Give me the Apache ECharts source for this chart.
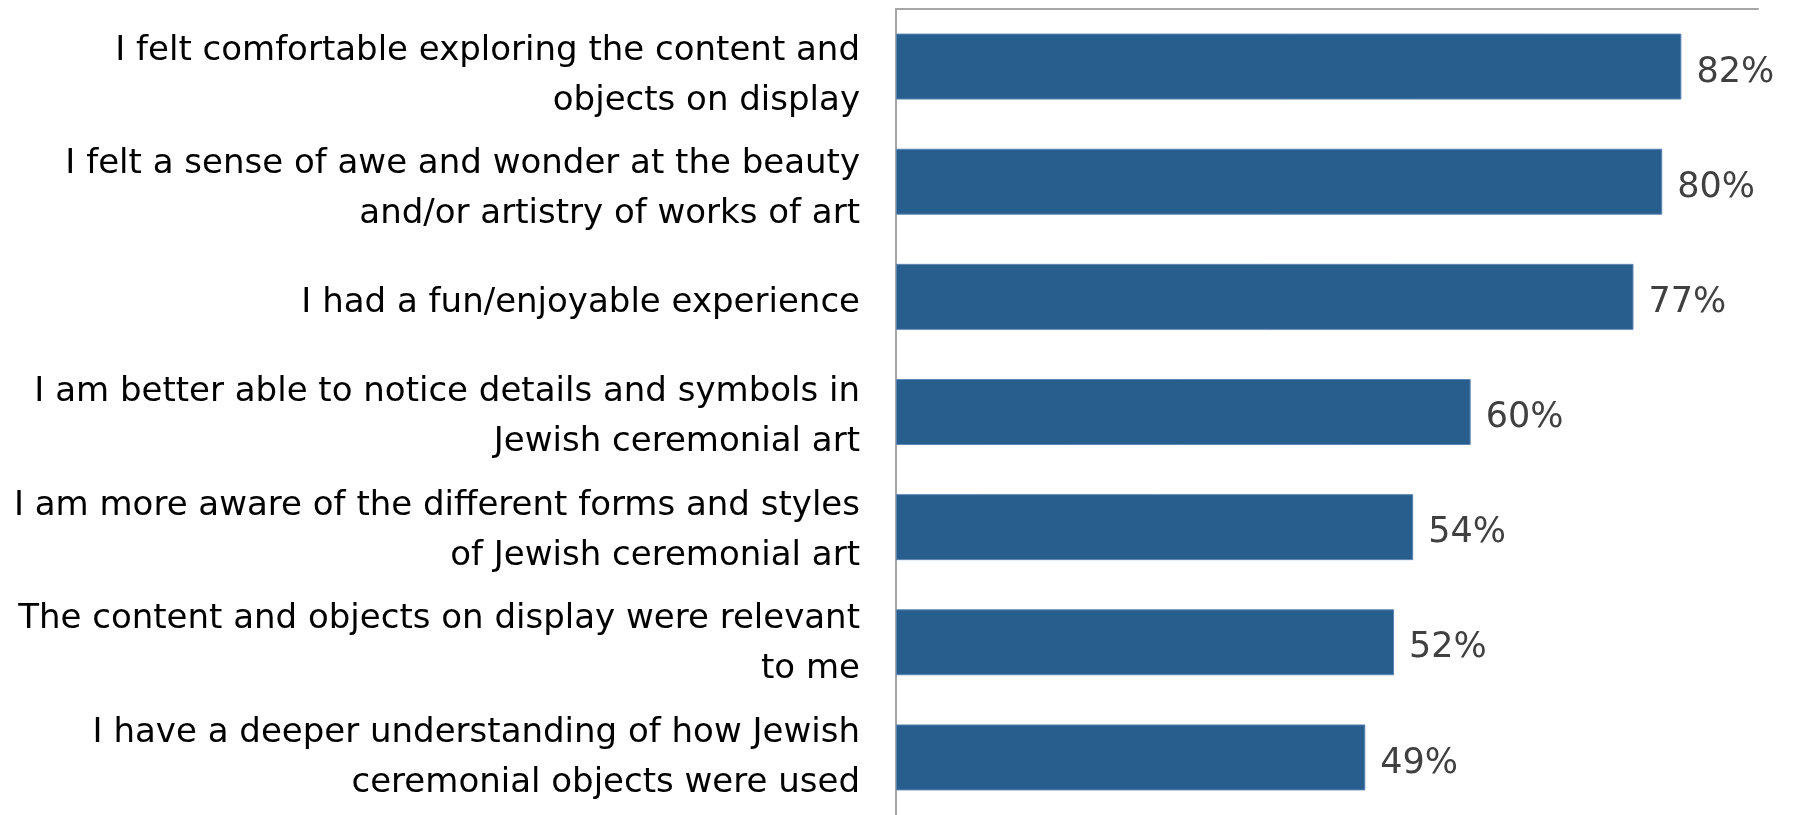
<!DOCTYPE html>
<html>
<head>
<meta charset="utf-8">
<script src="https://cdn.jsdelivr.net/npm/echarts@6/dist/echarts.min.js"></script>
<style>
  html, body { margin: 0; padding: 0; background: #ffffff; }
  #chart { width: 1793px; height: 815px; }
</style>
</head>
<body>
<div id="chart"></div>
<script>
// Survey statements, top to bottom
const categories = [
  'I felt comfortable exploring the content and\nobjects on display',
  'I felt a sense of awe and wonder at the beauty\nand/or artistry of works of art',
  'I had a fun/enjoyable experience',
  'I am better able to notice details and symbols in\nJewish ceremonial art',
  'I am more aware of the different forms and styles\nof Jewish ceremonial art',
  'The content and objects on display were relevant\nto me',
  'I have a deeper understanding of how Jewish\nceremonial objects were used'
];
// Share of respondents agreeing (%)
const values = [82, 80, 77, 60, 54, 52, 49];

const axisMax = 90;
const fontFamily = '"DejaVu Sans", sans-serif';

// Plot area: the last band runs slightly past the bottom edge of the canvas
const plot = { left: 896, top: 9, width: 862, height: 812 };
// Statement labels sit a little below the band centres
const labelDrop = 10;

const chart = echarts.init(document.getElementById('chart'), null, { renderer: 'canvas' });
chart.setOption({
  animation: false,
  backgroundColor: '#ffffff',
  grid: [
    { left: plot.left, top: plot.top, width: plot.width, height: plot.height, containLabel: false },
    { left: plot.left, top: plot.top + labelDrop, width: plot.width, height: plot.height, containLabel: false }
  ],
  xAxis: [{
    type: 'value',
    gridIndex: 0,
    position: 'top',
    min: 0,
    max: axisMax,
    axisLine: { show: true, lineStyle: { color: '#a6a6a6', width: 2 } },
    axisTick: { show: false },
    axisLabel: { show: false },
    splitLine: { show: false }
  }, {
    type: 'value',
    gridIndex: 1,
    min: 0,
    max: axisMax,
    show: false
  }],
  yAxis: [{
    type: 'category',
    gridIndex: 0,
    inverse: true,
    data: categories,
    axisLine: { show: true, lineStyle: { color: '#a6a6a6', width: 2 } },
    axisTick: { show: false },
    axisLabel: { show: false }
  }, {
    type: 'category',
    gridIndex: 1,
    inverse: true,
    data: categories,
    axisLine: { show: false },
    axisTick: { show: false },
    splitLine: { show: false },
    axisLabel: {
      margin: 36,
      align: 'right',
      color: '#000000',
      fontFamily: fontFamily,
      fontSize: 34,
      lineHeight: 50,
      showMinLabel: true,
      showMaxLabel: true,
      interval: 0
    }
  }],
  series: [{
    type: 'bar',
    xAxisIndex: 0,
    yAxisIndex: 0,
    data: values,
    barWidth: '57.3%',
    itemStyle: { color: '#285e8e', borderColor: '#5b86b3', borderWidth: 1 },
    label: {
      show: true,
      position: 'right',
      distance: 15,
      formatter: '{c}%',
      color: '#404040',
      fontFamily: fontFamily,
      fontSize: 35,
      offset: [0, 6]
    }
  }]
});
</script>
</body>
</html>
